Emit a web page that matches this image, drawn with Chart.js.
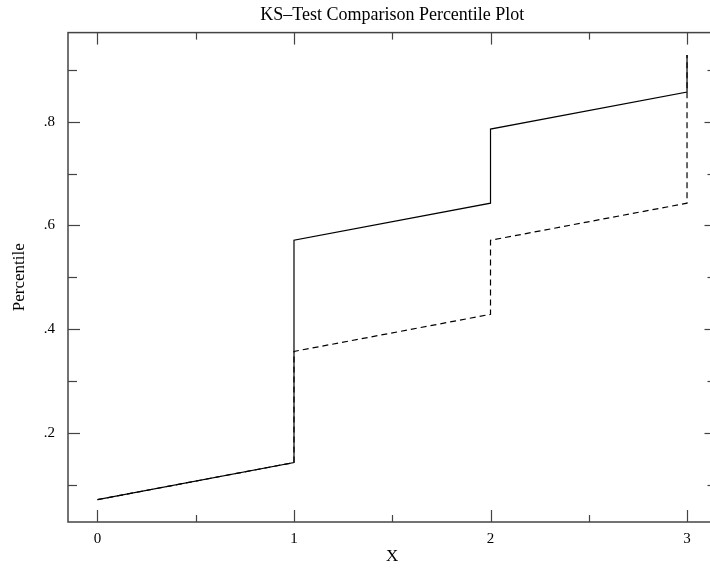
<!DOCTYPE html>
<html>
<head>
<meta charset="utf-8">
<script src="https://cdn.jsdelivr.net/npm/chart.js@4"></script>
<style>
  html, body { margin: 0; padding: 0; background: #fff; overflow: hidden; }
</style>
</head>
<body>
<canvas id="ksChart" width="730" height="569"></canvas>
<script>
// Step points of the two empirical percentile curves
const solidX = [0, 1, 1, 2, 2, 3, 3];
const solidY = [0.0714, 0.1429, 0.5714, 0.6429, 0.7857, 0.8571, 0.9286];
const dashedX = [0, 1, 1, 2, 2, 3, 3];
const dashedY = [0.0714, 0.1429, 0.3571, 0.4286, 0.5714, 0.6429, 0.9286];

// Tick values
const xMajor = [0, 1, 2, 3];
const xMinor = [0.5, 1.5, 2.5];
const yMajor = [0.2, 0.4, 0.6, 0.8];
const yMinor = [0.1, 0.3, 0.5, 0.7, 0.9];

const serif = 'Liberation Serif';
const axisColor = '#444';

function toPoints(xs, ys) {
  return xs.map((x, i) => ({ x: x, y: ys[i] }));
}

// Draws the box frame with inward tick marks on all four sides
const frameTicks = {
  id: 'frameTicks',
  afterDraw(chart) {
    const { ctx, chartArea: a, scales } = chart;
    const xs = scales.x, ys = scales.y;
    ctx.save();
    ctx.strokeStyle = axisColor;
    ctx.lineWidth = 1.5;
    ctx.strokeRect(a.left, a.top, a.right - a.left, a.bottom - a.top);
    ctx.lineWidth = 1.2;
    const tick = (x1, y1, x2, y2) => {
      ctx.beginPath(); ctx.moveTo(x1, y1); ctx.lineTo(x2, y2); ctx.stroke();
    };
    xMajor.forEach(v => {
      const p = Math.round(xs.getPixelForValue(v)) + 0.5;
      tick(p, a.bottom, p, a.bottom - 12);
      tick(p, a.top, p, a.top + 12);
    });
    xMinor.forEach(v => {
      const p = Math.round(xs.getPixelForValue(v)) + 0.5;
      tick(p, a.bottom, p, a.bottom - 7);
      tick(p, a.top, p, a.top + 7);
    });
    yMajor.forEach(v => {
      const p = Math.round(ys.getPixelForValue(v)) + 0.5;
      tick(a.left, p, a.left + 12, p);
      tick(a.right, p, a.right - 12, p);
    });
    yMinor.forEach(v => {
      const p = Math.round(ys.getPixelForValue(v)) + 0.5;
      tick(a.left, p, a.left + 9, p);
      tick(a.right, p, a.right - 9, p);
    });
    ctx.restore();
  }
};

new Chart(document.getElementById('ksChart'), {
  type: 'scatter',
  data: {
    datasets: [
      {
        label: 'Sample 1',
        data: toPoints(solidX, solidY),
        showLine: true,
        borderColor: '#000',
        borderWidth: 1.2,
        pointRadius: 0,
        fill: false,
        order: 2
      },
      {
        label: 'Sample 2',
        data: toPoints(dashedX, dashedY),
        showLine: true,
        borderColor: '#000',
        borderWidth: 1.2,
        borderDash: [6, 4],
        pointRadius: 0,
        fill: false,
        order: 1
      }
    ]
  },
  options: {
    responsive: false,
    animation: false,
    layout: { padding: { left: 0, right: 13.5, top: 0, bottom: 0 } },
    plugins: {
      legend: { display: false },
      tooltip: { enabled: false },
      title: {
        display: true,
        text: 'KS\u2013Test Comparison Percentile Plot',
        color: '#000',
        fullSize: false,
        font: { family: serif, size: 18, weight: 'normal' },
        padding: { top: 4, bottom: 7 }
      }
    },
    scales: {
      x: {
        type: 'linear',
        min: -0.15,
        max: 3.15,
        afterBuildTicks: s => { s.ticks = xMajor.map(v => ({ value: v })); },
        afterFit: s => { s.height = 47; },
        grid: { display: false, drawTicks: false },
        border: { display: false },
        ticks: {
          color: '#000',
          padding: 8,
          maxRotation: 0,
          font: { family: serif, size: 15 },
          callback: v => String(v)
        },
        title: {
          display: true,
          text: 'X',
          color: '#000',
          font: { family: serif, size: 17 },
          padding: { top: 0, bottom: 2 }
        }
      },
      y: {
        type: 'linear',
        min: 0.0283,
        max: 0.9717,
        afterBuildTicks: s => { s.ticks = yMajor.map(v => ({ value: v })); },
        afterFit: s => { s.width = 68; },
        grid: { display: false, drawTicks: false },
        border: { display: false },
        ticks: {
          color: '#000',
          padding: 13,
          font: { family: serif, size: 15 },
          callback: v => '.' + Math.round(v * 10)
        },
        title: {
          display: true,
          text: 'Percentile',
          color: '#000',
          font: { family: serif, size: 17 },
          padding: { top: 9, bottom: 0 }
        }
      }
    }
  },
  plugins: [frameTicks]
});
</script>
</body>
</html>
